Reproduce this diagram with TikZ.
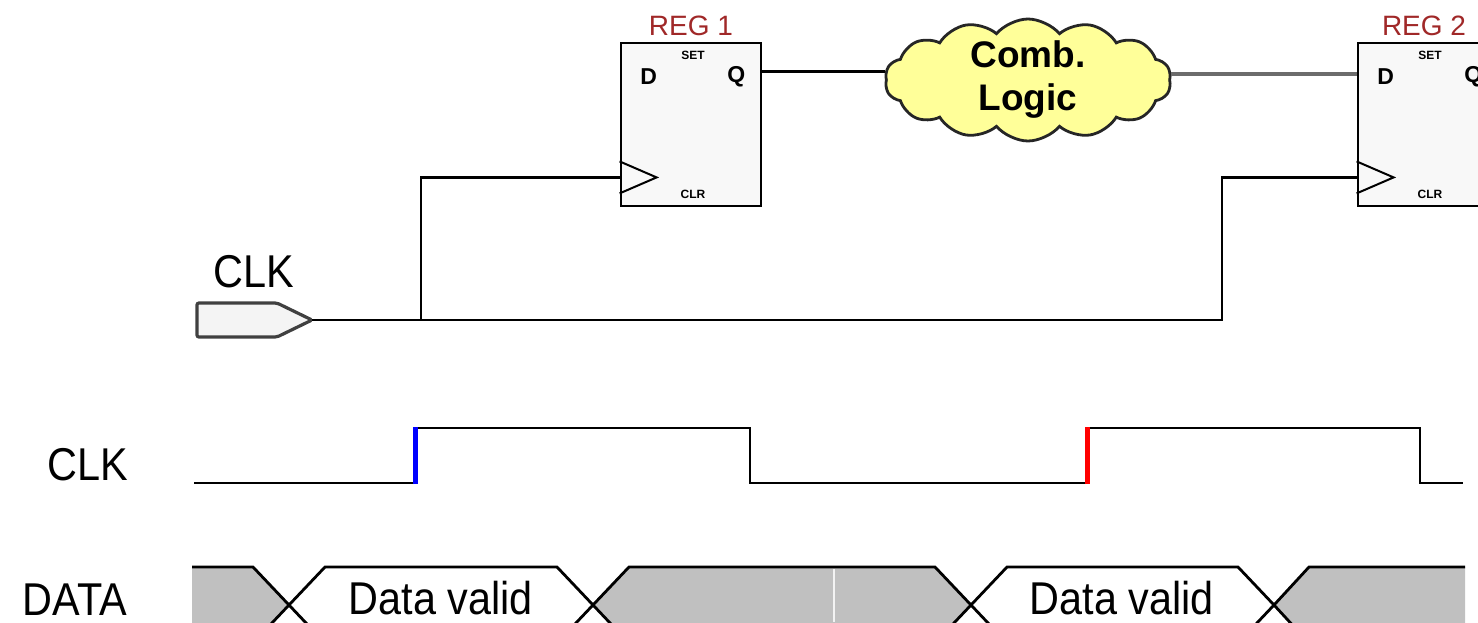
\documentclass[tikz,border=0pt]{standalone}
\usepackage{fontspec}
\setmainfont{Liberation Sans}
\usetikzlibrary{shapes.symbols,calc}
\definecolor{regred}{HTML}{A02828}
\definecolor{cloudy}{HTML}{FFFF99}
\definecolor{bandgray}{HTML}{C0C0C0}
\definecolor{boxfill}{HTML}{F8F8F8}
\definecolor{pinfill}{HTML}{F4F4F4}
\begin{document}
\begin{tikzpicture}[x=0.5pt,y=-0.5pt,
  wire/.style={line width=1.4pt,black},
  regbox/.style={draw,line width=1.4pt,fill=boxfill,minimum width=70pt,minimum height=81.5pt,inner sep=0pt},
  reglabel/.style={text=regred,font=\fontsize{14}{14}\selectfont,inner sep=0pt},
  pinlbl/.style={font=\bfseries\fontsize{11.5}{12}\selectfont,inner sep=0pt},
  tinylbl/.style={font=\bfseries\fontsize{6}{6}\selectfont,inner sep=0pt},
  biglbl/.style={font=\fontsize{23}{23}\selectfont,xscale=0.9,inner sep=0pt},
  band/.style={line width=1.4pt,black}]
\useasboundingbox (0,0) rectangle (1478,622);
\begin{scope}
\clip (0,0) rectangle (1478,622);
% registers
\node[regbox] (r1) at (691,124.5) {};
\node[regbox] (r2) at (1428,124.5) {};
\foreach \r/\t/\dx in {r1/REG 1/0,r2/REG 2/-4}{
  \node[reglabel] (\r lab) at ($(\r.north)+(\dx,-16)$) {\t};
  \node[pinlbl] (\r D) at ($(\r.north west)+(29,35)$) {D};
  \node[pinlbl] (\r Q) at ($(\r.north east)+(-26,35)$) {Q};
  \node[tinylbl] (\r set) at ($(\r.north)+(2,14)$) {SET};
  \node[tinylbl] (\r clr) at ($(\r.south)+(2,-13)$) {CLR};
  \draw[line width=1pt] ($(\r.south west)+(0,-46)$) -- ($(\r.south west)+(37,-30)$) -- ($(\r.south west)+(0,-14)$);
  \coordinate (\r clk) at ($(\r.south west)+(0,-30)$);
}
\coordinate (r1q) at ($(r1.north east)+(0,30)$);
\coordinate (r2d) at ($(r2.north west)+(0,32)$);
% cloud
\node[cloud,cloud puffs=14,cloud puff arc=100,cloud ignores aspect,draw=black!85,line width=1.4pt,fill=cloudy,
  minimum width=143pt,minimum height=61pt,inner sep=0pt] (cl) at (1028,80) {};
\node[align=center,inner sep=0pt,font=\bfseries\fontsize{18.5}{21.5}\selectfont] (cltext) at (cl.center) {Comb.\\Logic};
\draw[wire] (r1q) -- (cl.west |- r1q);
\draw[line width=2pt,gray!85!black] (cl.east |- r2d) -- (r2d);
% clock input pin
\draw[line width=1.6pt,black!75,fill=pinfill,rounded corners=1pt] (197,303) -- (277,303) -- (312,320) -- (277,337) -- (197,337) -- cycle;
\coordinate (clkpin) at (312,320);
\node[biglbl] (clktop) at (254,272) {CLK};
\coordinate (j1) at (421,320);
\coordinate (j2) at (1222,320);
\draw[wire] (clkpin) -- (j2) |- (r2clk);
\draw[wire] (j1) |- (r1clk);
% timing CLK
\node[biglbl] (clklab) at (88,465) {CLK};
\draw[wire] (194,483) -- (415,483);
\draw[wire] (415,428) -- (750,428) -- (750,483) -- (1087,483);
\draw[wire] (1087,428) -- (1420,428) -- (1420,483) -- (1463,483);
\draw[line width=2.5pt,blue] (415,484) -- (415,427);
\draw[line width=2.5pt,red] (1087,484) -- (1087,427);
% DATA band
\node[biglbl] (datalab) at (75,600) {DATA};
\fill[bandgray] (192,567) -- (253,567) -- (289,605) -- (253,643) -- (192,643) -- cycle;
\fill[bandgray] (593,605) -- (629,567) -- (935,567) -- (971,605) -- (935,643) -- (629,643) -- cycle;
\fill[bandgray] (1274,605) -- (1309,567) -- (1465,567) -- (1465,643) -- (1309,643) -- cycle;
\draw[white!80!bandgray,line width=0.8pt] (834,569) -- (834,622);
\draw[band,fill=white] (289,605) -- (325,567) -- (557,567) -- (593,605) -- (557,643) -- (325,643) -- cycle;
\draw[band,fill=white] (971,605) -- (1007,567) -- (1238,567) -- (1274,605) -- (1238,643) -- (1007,643) -- cycle;
\draw[band] (192,567) -- (253,567) -- (289,605) -- (253,643);
\draw[band] (629,643) -- (593,605) -- (629,567) -- (935,567) -- (971,605) -- (935,643);
\draw[band] (1465,567) -- (1309,567) -- (1274,605) -- (1309,643);
\node[biglbl] (dv1) at (441,598) {Data valid};
\node[biglbl] (dv2) at (1122,598) {Data valid};
\end{scope}
\end{tikzpicture}
\end{document}
